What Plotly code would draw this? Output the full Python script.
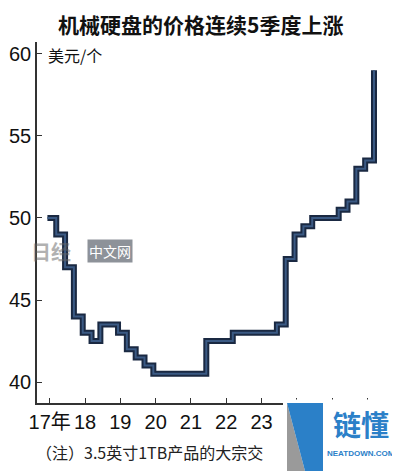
import plotly.graph_objects as go

# quarterly price of 3.5" 1TB HDD (USD/unit), 2017Q1 onwards
quarter_idx = list(range(38))
price = [50, 49, 47, 44, 43, 42.5, 43.5, 43.5, 43, 42,
         41.5, 41, 40.5, 40.5, 40.5, 40.5, 40.5, 40.5, 42.5, 42.5,
         42.5, 43, 43, 43, 43, 43, 43.5, 47.5, 49, 49.5,
         50, 50, 50, 50.5, 51, 53, 53.5, 59]

# the last three year labels sit under the logo in the source
year_labels = ["17年", "18", "19", "20", "21", "22", "23", "", "", ""]
y_ticks = [40, 45, 50, 55, 60]

# page body adds an 8px offset; plan in screen pixels, then shift
OFF = 8
SW, SH = 400, 471
W, H = SW - OFF, SH - OFF
L, R, T, B = 37, 8, 42, 68   # plot area edges, screen pixels

def px(x):
    return (x - L) / (SW - L - R)

def py(y):
    return (SH - B - y) / (SH - T - B)

NUM_FONT = "Liberation Sans Narrow, Liberation Sans, Noto Sans CJK SC"
CJK_FONT = "Noto Sans CJK SC"

fig = go.Figure()

# dark outline + lighter core gives the embossed step line
fig.add_trace(go.Scatter(
    x=quarter_idx, y=price, mode='lines',
    line=dict(shape='hv', color='#1a2942', width=6),
    hoverinfo='skip', showlegend=False
))
fig.add_trace(go.Scatter(
    x=quarter_idx, y=price, mode='lines',
    line=dict(shape='hv', color='#3b5a84', width=2),
    hoverinfo='skip', showlegend=False
))

fig.update_layout(
    width=W, height=H,
    margin=dict(l=L - OFF, r=R, t=T - OFF, b=B, autoexpand=False),
    paper_bgcolor='white', plot_bgcolor='white',
    xaxis=dict(range=[-1.18, 39.04], tickvals=[0.26 + 4 * k for k in range(len(year_labels))],
               ticktext=year_labels, showgrid=False, zeroline=False, automargin=False,
               tickangle=0,
               showline=True, linecolor='#333', linewidth=1.5,
               ticks='inside', ticklen=5, tickwidth=1.2, tickcolor='#333',
               tickfont=dict(family=NUM_FONT, size=20, color='#111')),
    yaxis=dict(range=[38.72, 60.73], tickvals=y_ticks, showgrid=False, zeroline=False,
               automargin=False,
               showline=True, linecolor='#333', linewidth=1.5,
               ticks='inside', ticklen=5, tickwidth=1.2, tickcolor='#333',
               tickfont=dict(family=NUM_FONT, size=20, color='#111')),
)

def note(text, x, y, size, color, anchor='center', **kw):
    return dict(text=text, x=px(x), y=py(y), xref='paper', yref='paper',
                xanchor=anchor, yanchor='middle', showarrow=False,
                font=dict(family=kw.pop('family', CJK_FONT), size=size, color=color), **kw)

ann = [
    note('<b>机械硬盘的价格连续5季度上涨</b>', 200, 24, 21, '#111'),
    note('美元/个', 46, 55, 16, '#111', anchor='left'),
    note('（注）3.5英寸1TB产品的大宗交', 34, 452, 16, '#222', anchor='left'),
    # watermarks
    note('<b>日经</b>', 51, 251, 20, '#666', opacity=0.5),
    note('中文网', 110, 251, 14, 'white', bgcolor='#8d9299', borderpad=1),
    note('<b>链懂</b>', 361, 424, 28, '#2b80c8'),
    note('<b>NEATDOWN.COM</b>', 361, 453, 8, '#2b80c8', family='Liberation Sans'),
]
fig.update_layout(annotations=ann)

shapes = []
shapes.append(dict(type='rect', xref='paper', yref='paper', layer='above',
                   x0=px(283), x1=px(401), y0=py(472), y1=py(399.5),
                   fillcolor='white', line=dict(width=0)))
shapes.append(dict(type='path', xref='paper', yref='paper', layer='above',
                   path=f'M {px(287)} {py(471)} L {px(287)} {py(403)} L {px(305)} {py(471)} Z',
                   fillcolor='#9a9a9a', line=dict(width=0)))
shapes.append(dict(type='path', xref='paper', yref='paper', layer='above',
                   path=f'M {px(287)} {py(403)} L {px(305)} {py(403)} L {px(305)} {py(471)} Z',
                   fillcolor='#2b80c8', line=dict(width=0)))
shapes.append(dict(type='rect', xref='paper', yref='paper', layer='above',
                   x0=px(305), x1=px(323), y0=py(471), y1=py(403),
                   fillcolor='#2b80c8', line=dict(width=0)))
fig.update_layout(shapes=shapes)

fig.write_html("out.html")
